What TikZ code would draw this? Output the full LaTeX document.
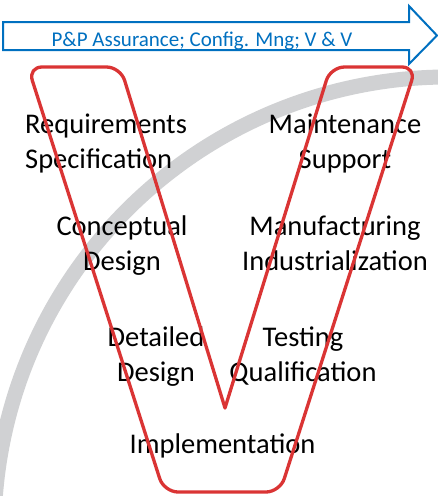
\documentclass[tikz,border=0pt]{standalone}
\usepackage{fontspec}
\setmainfont{Carlito}
\definecolor{vblue}{RGB}{0,112,192}
\definecolor{vred}{RGB}{218,52,52}
\definecolor{arcgray}{RGB}{208,209,211}
\begin{document}
\begin{tikzpicture}[x=1pt,y=-1pt,
  lbl/.style={font=\fontsize{28.5}{35}\selectfont, align=center, anchor=base, inner sep=0pt, text=black},
  atext/.style={font=\fontsize{21}{25}\selectfont, anchor=base, inner sep=0pt, text=vblue},
  vline/.style={draw=vred, line width=3.3pt, rounded corners=14pt, line cap=round, line join=round},
  barrow/.style={draw=vblue, line width=2pt, fill=white, line join=miter}]
\useasboundingbox (0,0) rectangle (438,496);
\begin{scope}
  \clip (0,0) rectangle (438,496);
  \draw[arcgray, line width=15pt] (448pt,-531pt) ++(80:454pt) arc[start angle=80, end angle=180, radius=454pt];
\end{scope}
% process arrow
\draw[barrow] (3,22) -- (409,22) -- (409,6) -- (437,35.5) -- (409,64) -- (409,50) -- (3,50) -- cycle;
\node[atext] (ptext) at (202,46) {P\&P Assurance; Config. Mng; V \& V};
% labels (anchor base = baseline of the last line)
\node[lbl, align=left, anchor=base west] (req) at (25,168) {Requirements\\Specification};
\node[lbl] (maint) at (345,168) {Maintenance\\Support};
\node[lbl] (concept) at (122,270) {Conceptual\\Design};
\node[lbl] (manuf) at (335,270) {Manufacturing\\Industrialization};
\node[lbl] (detail) at (156,381) {Detailed\\Design};
\node[lbl] (test) at (303,381) {Testing\\Qualification};
\node[lbl] (impl) at (222.5,453) {Implementation};
% V outline (drawn over the text, as in the reference)
\draw[vline] (225,408) -- (330.5,67) -- (416,67) -- (280,492) -- (164,492) -- (28,67) -- (120.5,67) -- (225,408);
\end{tikzpicture}
\end{document}
